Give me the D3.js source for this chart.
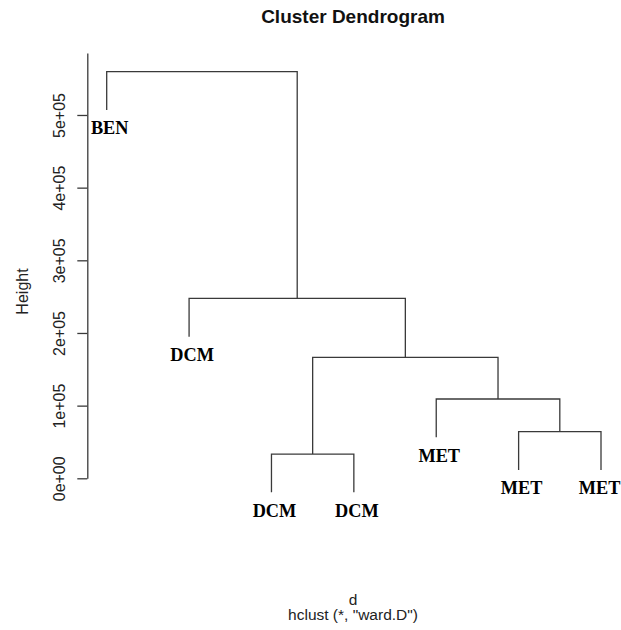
<!DOCTYPE html>
<html><head><meta charset="utf-8">
<script src="https://cdn.jsdelivr.net/npm/d3@7"></script>
<style>html,body{margin:0;padding:0;background:#fff}svg{display:block}</style>
</head><body><svg id="c" width="621" height="630"></svg>
<script>
// ---- data ----
const leafLabels = ["BEN","DCM","DCM","DCM","MET","MET","MET"];
// hclust-style merge table: negative = leaf index (1-based), positive = earlier merge step
const mergeA = [-3, -6, -5, 1, -2, -1];
const mergeB = [-4, -7, 2, 3, 4, 5];
const mergeHeight = [33400, 64100, 109100, 166500, 247500, 559600];
const yTicks = [0, 100000, 200000, 300000, 400000, 500000];
const yTickLabels = ["0e+00","1e+05","2e+05","3e+05","4e+05","5e+05"];
const titleText = "Cluster Dendrogram";
const xLabelText = "d";
const subText = 'hclust (*, "ward.D")';
const yLabelText = "Height";
const yAxisMax = 585300;

// ---- drawing ----
const W = 621;
const svg = d3.select("#c");
const x = d3.scaleLinear().domain([1, leafLabels.length]).range([106.7, 601]);
const y = d3.scaleLinear().domain([0, yAxisMax]).range([478.3, 53]);
const hang = 0.1 * (d3.max(mergeHeight) - d3.min(mergeHeight));
const stroke = "#3a3a3a";

// compute merge x positions
const mx = [];
function posOf(id){ return id < 0 ? x(-id) : mx[id-1]; }
function topOf(id, h){ return id < 0 ? h - hang : mergeHeight[id-1]; }
const segs = [];
mergeHeight.forEach((h, i) => {
  const a = mergeA[i], b = mergeB[i];
  const xa = posOf(a), xb = posOf(b);
  mx[i] = (xa + xb) / 2;
  segs.push([[xa, y(topOf(a, h))], [xa, y(h)], [xb, y(h)], [xb, y(topOf(b, h))]]);
});
const line = d3.line();
svg.append("g").selectAll("path").data(segs).join("path")
  .attr("d", line).attr("fill", "none").attr("stroke", stroke).attr("stroke-width", 1.3);

// leaf labels
svg.append("g").selectAll("text").data(leafLabels).join("text")
  .attr("x", (d, i) => x(i+1) + 3)
  .attr("y", (d, i) => {
    const leaf = -(i+1);
    const k = mergeA.indexOf(leaf) >= 0 ? mergeA.indexOf(leaf) : mergeB.indexOf(leaf);
    return y(mergeHeight[k] - hang) + 24.5;
  })
  .attr("text-anchor", "middle")
  .attr("font-family", "Liberation Serif, Times New Roman, serif")
  .attr("font-weight", "bold").attr("font-size", 18.3).attr("fill", "#000")
  .text(d => d)
  .each(function(){
    const el = d3.select(this);
    const half = this.getComputedTextLength() / 2;
    const cx = +el.attr("x");
    if (cx + half > W - 0.5) el.attr("x", W - 0.5 - half);
  });

// y axis
const ax = svg.append("g").attr("transform", "translate(87.3,0)")
  .call(d3.axisLeft(y).tickValues(yTicks).tickFormat((d, i) => yTickLabels[i]).tickSize(10).tickSizeOuter(0));
ax.select(".domain").attr("stroke", stroke).attr("stroke-width", 1.3);
ax.selectAll(".tick line").attr("stroke", stroke).attr("stroke-width", 1.3);
ax.selectAll(".tick text")
  .attr("transform", "rotate(-90)")
  .attr("x", 0).attr("y", -22.3).attr("dy", null)
  .attr("text-anchor", "middle")
  .attr("font-family", "Liberation Sans, Arial, sans-serif")
  .attr("font-size", 16).attr("fill", "#222");

// titles
svg.append("text").attr("x", 353).attr("y", 23.3).attr("text-anchor", "middle")
  .attr("font-family", "Liberation Sans, Arial, sans-serif").attr("font-weight", "bold")
  .attr("font-size", 19).attr("fill", "#111").text(titleText);
svg.append("text").attr("x", 353).attr("y", 604.5).attr("text-anchor", "middle")
  .attr("font-family", "Liberation Sans, Arial, sans-serif")
  .attr("font-size", 15.5).attr("fill", "#222").text(xLabelText);
svg.append("text").attr("x", 353).attr("y", 620).attr("text-anchor", "middle")
  .attr("font-family", "Liberation Sans, Arial, sans-serif")
  .attr("font-size", 15.5).attr("fill", "#222").text(subText);
svg.append("text").attr("transform", "translate(28,291.5) rotate(-90)").attr("text-anchor", "middle")
  .attr("font-family", "Liberation Sans, Arial, sans-serif")
  .attr("font-size", 16).attr("fill", "#222").text(yLabelText);
</script></body></html>
